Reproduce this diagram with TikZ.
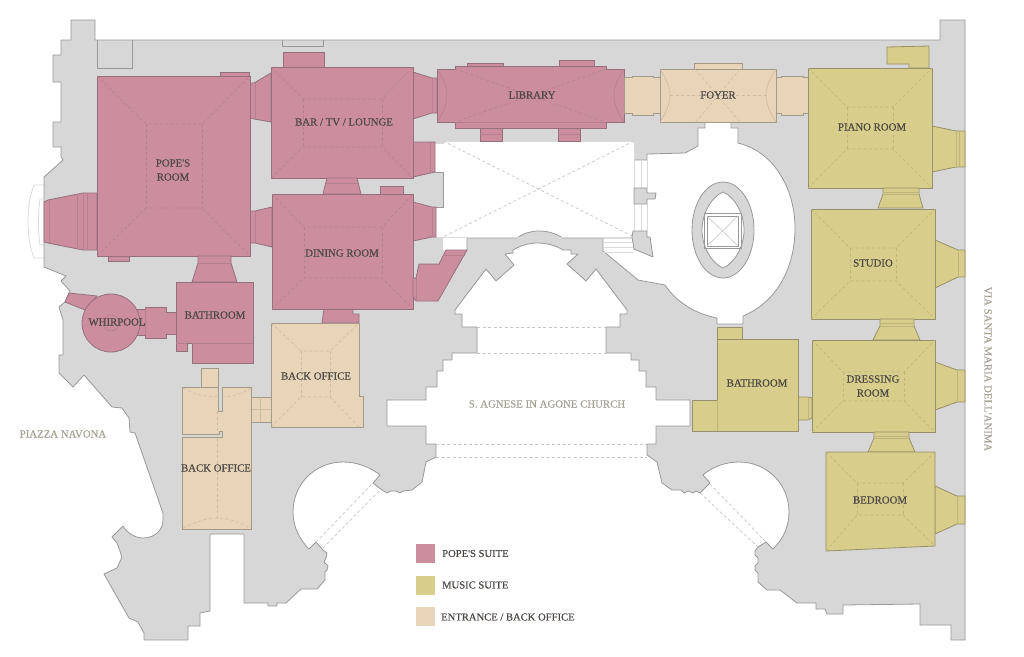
\documentclass[tikz,border=0pt]{standalone}
\usepackage{fontspec}
\setmainfont{Liberation Serif}
\newfontfamily\platefont[FakeBold=0.35]{Liberation Serif}
\definecolor{wallgray}{HTML}{D7D7D7}
\definecolor{walledge}{HTML}{989898}
\definecolor{voidedge}{HTML}{DADADA}
\definecolor{voidmark}{HTML}{C6C6C6}
\definecolor{popepink}{HTML}{CC8E9F}
\definecolor{popeedge}{HTML}{94707C}
\definecolor{popesoft}{HTML}{B4808F}
\definecolor{musicolive}{HTML}{D8CD8A}
\definecolor{musicedge}{HTML}{97906A}
\definecolor{musicsoft}{HTML}{BEB47C}
\definecolor{officetan}{HTML}{E8D4B8}
\definecolor{officeedge}{HTML}{A39A88}
\definecolor{officesoft}{HTML}{CCBBA3}
\definecolor{labeldark}{HTML}{4B4744}
\definecolor{labellight}{HTML}{A5A296}
\tikzset{
  wall/.style={fill=wallgray, draw=walledge, line width=0.8pt, line join=round},
  void/.style={fill=white, draw=walledge, line width=0.8pt},
  voidline/.style={draw=voidedge, line width=0.8pt},
  voiddash/.style={draw=voidmark, line width=0.7pt, dash pattern=on 3pt off 2.5pt},
  pope/.style={fill=popepink, draw=popeedge, line width=0.8pt},
  music/.style={fill=musicolive, draw=musicedge, line width=0.8pt},
  office/.style={fill=officetan, draw=officeedge, line width=0.8pt},
  popedash/.style={draw=popesoft, line width=0.6pt, dash pattern=on 3pt off 2.5pt},
  musicdash/.style={draw=musicsoft, line width=0.6pt, dash pattern=on 3pt off 2.5pt},
  officedash/.style={draw=officesoft, line width=0.6pt, dash pattern=on 3pt off 2.5pt},
  popeline/.style={draw=popesoft, line width=0.6pt},
  musicline/.style={draw=musicsoft, line width=0.6pt},
  officeline/.style={draw=officesoft, line width=0.6pt},
  roomlabel/.style={font=\platefont\fontsize{10.8}{14}\selectfont, text=labeldark, align=center, inner sep=0pt},
  placelabel/.style={font=\platefont\fontsize{10.8}{14}\selectfont, text=labellight, inner sep=0pt},
  keylabel/.style={font=\platefont\fontsize{10.6}{13}\selectfont, text=labeldark, anchor=west, inner sep=0pt}
}
% hipped ceiling: style, outer corners, inner corners
\newcommand{\hipceiling}[9]{
  \draw[#1] (#2,#3) -- (#6,#7) -- (#8,#7) -- (#4,#3);
  \draw[#1] (#2,#5) -- (#6,#9) -- (#8,#9) -- (#4,#5);
  \draw[#1] (#6,#7) -- (#6,#9);
  \draw[#1] (#8,#7) -- (#8,#9);
}
\begin{document}
\begin{tikzpicture}[x=1pt,y=-1pt]
  \useasboundingbox (0,0) rectangle (1024,656);

  % Portal on the piazza
  \draw[voidline] (44,185) -- (34,185) .. controls (26,205) and (26,238) .. (34,258) -- (44,258);
  \draw[voidline] (44,199) -- (40,199) .. controls (38,212) and (38,232) .. (40,245) -- (44,245);

  % Palace walls
  \path[wall] (71,20) -- (95,20) -- (95,40) -- (940,40) -- (940,20) -- (965,20) -- (965,640)
    -- (951,640) -- (951,625) -- (920,625) -- (920,604) -- (843,605) -- (843,614) -- (827,614)
    -- (825,609) -- (816,609) -- (816,603) -- (797,603) -- (780,590) -- (767,590) -- (758,582)
    -- (758,573) -- (755,570) -- (755,566) -- (758,563) -- (758,558) -- (755,555) -- (755,551)
    -- (758,547) -- (766,542) -- (773,549)
    .. controls (784,538) and (789,526) .. (789,512) .. controls (789,484) and (767,462) .. (739,462)
    .. controls (725,462) and (712,467) .. (703,475)
    -- (710,483) -- (700,493) -- (696,491) -- (693,493) -- (688,491) -- (684,493) -- (681,490)
    -- (672,490) -- (662,483) -- (657,462) -- (647,455)
    % church
    -- (647,444) -- (656,444) -- (656,426) -- (690,426) -- (690,400) -- (656,400) -- (656,387)
    -- (646,387) -- (646,371) -- (639,371) -- (639,360) -- (631,360) -- (631,353) -- (606,353)
    -- (606,327) -- (620,327) -- (620,314) -- (627,314) -- (627,310) -- (596,269) -- (586,281)
    -- (567,264) -- (578,254) -- (571,254) -- (571,250) -- (563,250)
    .. controls (555,245) and (546,243) .. (537,243) .. controls (528,243) and (520,246) .. (513,250)
    -- (513,253) -- (505,254) -- (514,265) -- (496,281) -- (486,269) -- (455,310) -- (455,314)
    -- (462,314) -- (462,327) -- (477,327) -- (477,353) -- (452,353) -- (452,360) -- (443,360)
    -- (443,371) -- (437,371) -- (437,387) -- (426,387) -- (426,400) -- (387,400) -- (387,426)
    -- (426,426) -- (426,444) -- (436,444) -- (436,457) -- (426,462) -- (422,482) -- (412,490)
    -- (403,491) -- (400,493) -- (396,491) -- (391,491) -- (387,493) -- (382,490) -- (373,483)
    -- (380,475)
    .. controls (370,467) and (357,462) .. (343,462) .. controls (315,462) and (293,484) .. (293,512)
    .. controls (293,526) and (299,539) .. (309,549)
    -- (316,542) -- (323,550) -- (327,553) -- (326,558) -- (324,562) -- (328,566) -- (327,570)
    -- (325,572) -- (325,580) -- (317,589) -- (301,589) -- (286,603) -- (277,603) -- (277,606)
    -- (268,606) -- (268,603) -- (244,603) -- (244,534) -- (210,534) -- (210,611) -- (200,613)
    -- (200,626) -- (188,626) -- (188,640) -- (144,640) -- (144,633) -- (138,622) -- (129,618)
    -- (104,574) -- (117,568) -- (122,557) -- (117,543) -- (112,537) -- (123,526)
    .. controls (127,533) and (135,538) .. (143,538) .. controls (155,538) and (163,530) .. (163,520)
    -- (163,513) -- (135,433) -- (130,432) -- (129,418) -- (122,408) -- (112,407) -- (84,375)
    -- (73,387) -- (59,373) -- (59,355) -- (63,355) -- (63,320) -- (59,307) -- (65,302) -- (70,291)
    -- (61,281) -- (66,276) -- (44,267) -- (44,177) -- (63,160) -- (61,157) -- (61,147) -- (53,147)
    -- (53,122) -- (61,122) -- (61,82) -- (53,82) -- (53,55) -- (61,55) -- (61,40) -- (71,40) -- cycle;
  \draw[draw=walledge, line width=0.8pt] (97,40) -- (97,68) -- (132,68) -- (132,40);
  \draw[draw=walledge, line width=0.8pt] (282,40) -- (282,46) -- (323,46) -- (323,40);

  % Rotunda behind the foyer
  \path[void] (634,160) -- (647,160) -- (647,154) -- (685,153) -- (698,146) -- (698,128) -- (705,128)
    -- (705,122) -- (731,122) -- (731,128) -- (738,128) -- (738,143)
    .. controls (775,152) and (795,190) .. (795,228) .. controls (795,270) and (775,303) .. (743,316)
    -- (743,324) -- (717,324) -- (717,318)
    .. controls (692,313) and (675,300) .. (665,285)
    -- (638,280) -- (603,251) -- (603,238) -- (634,238) -- cycle;

  % Great hall
  \path[fill=white] (435,143) -- (443,143) -- (443,141) -- (634,141) -- (634,238) -- (563,238)
    .. controls (555,233) and (547,231) .. (539,231) .. controls (531,231) and (524,233) .. (517,238)
    -- (467,238) -- (467,250) -- (443,250) -- (443,237) -- (436,237) -- (436,207) -- (443,207)
    -- (443,172) -- (435,172) -- cycle;
  \draw[draw=walledge, line width=0.8pt] (435,172) -- (443,172) -- (443,207) -- (436,207);
  \draw[draw=walledge, line width=0.8pt] (467,250) -- (467,238) -- (517,238)
    .. controls (524,233) and (531,231) .. (539,231) .. controls (547,231) and (555,233) .. (563,238) -- (603,238);
  \draw[voidline] (435,143) -- (443,143) -- (443,141) -- (634,141) -- (634,237) -- (436,237);
  \draw[voiddash] (443,141) -- (634,237);
  \draw[voiddash] (634,141) -- (443,237);

  % Door strips
  \draw[voidline] (641,160) -- (641,188);
  \draw[voidline] (647,160) -- (647,188);
  \draw[voidline] (641,204) -- (641,231);
  \draw[voidline] (647,204) -- (647,231);
  \draw[voidline] (603,242) -- (633,242);
  \draw[voidline] (603,247) -- (633,247);
  \draw[voidline] (603,252) -- (634,252);
  \path[wall] (634,188) -- (647,188) -- (647,193) -- (656,193) -- (655,199) -- (647,199) -- (647,204) -- (634,204) -- cycle;
  \path[wall] (633,231) -- (647,231) -- (647,237) -- (650,237) -- (653,257) -- (634,249) -- (632,237) -- cycle;

  % Oval stair
  \path[wall] (723,230) ellipse [x radius=31, y radius=48];
  \path[void] (723,192) .. controls (711,197) and (702,214) .. (702,230) .. controls (702,246) and (711,263) .. (723,268)
    .. controls (735,263) and (744,246) .. (744,230) .. controls (744,214) and (735,197) .. (723,192) -- cycle;
  \draw[draw=walledge, line width=0.8pt] (704,213) rectangle (741,248);
  \draw[draw=walledge, line width=0.8pt] (707,216) rectangle (738,246);
  \draw[draw=voidmark, line width=0.6pt] (707,216) -- (738,246);
  \draw[draw=voidmark, line width=0.6pt] (738,216) -- (707,246);

  % Church and niche dashes
  \draw[voiddash] (477,327) -- (606,327);
  \draw[voiddash] (477,353) -- (606,353);
  \draw[voiddash] (436,444) -- (647,444);
  \draw[voiddash] (436,457) -- (647,457);
  \draw[voiddash] (316,542) -- (373,483);
  \draw[voiddash] (323,548) -- (380,490);
  \draw[voiddash] (710,484) -- (766,542);
  \draw[voiddash] (700,493) -- (758,547);

  % Pope's room
  \path[pope] (44,202) -- (48,200) -- (83,193) -- (97,193) -- (97,250) -- (83,250) -- (48,243) -- (44,242) -- cycle;
  \draw[popeline] (49,200) -- (49,243);
  \draw[popeline] (77,194) -- (77,249);
  \draw[popeline] (83,193) -- (83,250);
  \draw[popeline] (87,193) -- (87,250);
  \path[pope] (220,72) rectangle (249,76);
  \path[pope] (108,256) rectangle (129,261);
  \path[pope] (250,83) -- (254,83) -- (271,73) -- (271,122) -- (254,119) -- (250,118) -- cycle;
  \path[pope] (250,211) -- (255,211) -- (272,207) -- (272,247) -- (255,243) -- (250,243) -- cycle;
  \draw[popeline] (255,83) -- (255,119);
  \draw[popeline] (255,211) -- (255,243);
  \path[pope] (97,76) rectangle (250,256);
  \hipceiling{popedash}{97}{76}{250}{256}{146}{124}{202}{208}

  % Bar / TV / lounge
  \path[pope] (283,52) rectangle (324,67);
  \path[pope] (413,72) -- (432,78) -- (437,78) -- (437,113) -- (432,113) -- (413,119) -- cycle;
  \draw[popeline] (432,78) -- (432,113);
  \path[pope] (413,142) -- (435,142) -- (435,172) -- (413,177) -- cycle;
  \draw[popeline] (430,142) -- (430,173);
  \path[pope] (271,67) rectangle (413,178);
  \hipceiling{popedash}{271}{67}{413}{178}{303}{99}{382}{147}

  % Dining room
  \path[pope] (327,178) -- (357,178) -- (361,194) -- (323,194) -- cycle;
  \draw[popeline] (326,183) -- (358,183);
  \path[pope] (380,186) rectangle (403,194);
  \path[pope] (413,202) -- (432,207) -- (436,207) -- (436,237) -- (432,237) -- (413,241) -- cycle;
  \draw[popeline] (432,207) -- (432,237);
  \path[pope] (324,309) -- (353,309) -- (353,314) -- (359,314) -- (359,323) -- (322,323) -- cycle;
  \path[pope] (272,194) rectangle (413,309);
  \hipceiling{popedash}{272}{194}{413}{309}{304}{227}{382}{278}
  \path[pope] (467,250) -- (446,250) -- (439,264) -- (419,264) -- (416,278) -- (413,278) -- (413,297) -- (416,301) -- (438,301) -- cycle;
  \draw[popeline] (443,255) -- (465,255);
  \draw[popeline] (419,264) -- (439,264);
  \draw[popeline] (416,278) -- (416,301);

  % Library
  \path[pope] (480,128) rectangle (502,141);
  \path[pope] (558,128) rectangle (580,141);
  \draw[popeline] (480,134) -- (502,134);
  \draw[popeline] (558,134) -- (580,134);
  \path[pope] (467,63) rectangle (503,66);
  \path[pope] (559,60) rectangle (594,66);
  \path[pope] (437,69) -- (455,69) -- (455,66) -- (606,66) -- (606,69) -- (624,69) -- (624,122) -- (606,122) -- (606,128) -- (455,128) -- (455,122) -- (437,122) -- cycle;
  \draw[popeline] (437,69) .. controls (444,80) and (447,88) .. (447,95) .. controls (447,102) and (444,112) .. (437,122);
  \draw[popeline] (624,69) .. controls (617,80) and (614,88) .. (614,95) .. controls (614,102) and (617,112) .. (624,122);
  \draw[popeline] (455,122) -- (606,122);
  \draw[popedash] (455,69) -- (606,122);
  \draw[popedash] (606,69) -- (455,122);

  % Bathroom and whirlpool
  \path[pope] (198,256) -- (231,256) -- (231,263) -- (237,282) -- (192,282) -- (198,263) -- cycle;
  \draw[popeline] (198,263) -- (231,263);
  \path[pope] (69,293) -- (97,296) -- (85,310) -- (65,302) -- cycle;
  \path[pope] (137,309) -- (145,309) -- (145,307) -- (166,307) -- (166,312) -- (176,312) -- (176,334) -- (166,334) -- (166,338) -- (145,338) -- (145,335) -- (137,335) -- cycle;
  \draw[popeline] (145,309) -- (145,335);
  \path[pope] (111,323) circle (29);
  \draw[popeline] (111,323) circle (8);
  \path[pope] (176,282) -- (253,282) -- (253,363) -- (192,363) -- (192,343) -- (187,343) -- (187,351) -- (176,351) -- cycle;
  \draw[popeline] (192,343) -- (253,343);
  \draw[popeline] (176,343) -- (187,343);

  % Foyer
  \path[office] (624,77) -- (632,77) -- (632,76) -- (653,76) -- (653,77) -- (660,77) -- (660,113) -- (653,113) -- (653,115) -- (632,115) -- (632,113) -- (624,113) -- cycle;
  \path[office] (776,77) -- (781,77) -- (781,76) -- (803,76) -- (803,77) -- (808,77) -- (808,113) -- (803,113) -- (803,115) -- (781,115) -- (781,113) -- (776,113) -- cycle;
  \path[office] (694,63) rectangle (742,69);
  \path[office] (660,69) rectangle (776,122);
  \draw[officeline] (660,69) .. controls (667,80) and (670,88) .. (670,95) .. controls (670,102) and (667,112) .. (660,122);
  \draw[officeline] (776,69) .. controls (769,80) and (766,88) .. (766,95) .. controls (766,102) and (769,112) .. (776,122);
  \draw[officedash] (695,69) -- (740,122);
  \draw[officedash] (740,69) -- (696,122);
  \draw[officedash] (670,95) -- (766,95);

  % Back offices
  \path[office] (251,397) rectangle (271,422);
  \draw[officeline] (260,397) -- (260,422);
  \draw[officeline] (251,409) -- (271,409);
  \path[office] (271,323) -- (359,323) -- (359,396) -- (363,396) -- (363,427) -- (271,427) -- cycle;
  \hipceiling{officedash}{271}{323}{359}{427}{301}{351}{330}{397}
  \path[office] (201,368) rectangle (218,387);
  \path[office] (182,387) -- (218,387) -- (218,411) -- (222,411) -- (222,387) -- (251,387) -- (251,529) -- (182,529) -- (182,437) -- (222,437) -- (222,431) -- (219,431) -- (219,434) -- (182,434) -- cycle;
  \draw[officedash] (183,388) .. controls (195,395) and (210,398) .. (218,396);
  \draw[officedash] (222,397) .. controls (232,397) and (242,394) .. (251,388);
  \draw[officedash] (183,528) .. controls (195,522) and (207,518) .. (217,518) .. controls (227,518) and (240,522) .. (250,528);
  \draw[officedash] (217,411) -- (217,518);

  % Piano room
  \path[music] (887,47) -- (929,46) -- (929,68) -- (909,68) -- (909,64) -- (887,64) -- cycle;
  \path[music] (932,126) -- (956,131) -- (965,131) -- (965,167) -- (956,167) -- (932,172) -- cycle;
  \draw[musicline] (956,131) -- (956,167);
  \draw[musicline] (959,131) -- (959,167);
  \path[music] (808,68) rectangle (932,188);
  \hipceiling{musicdash}{808}{68}{932}{188}{847}{107}{893}{149}
  \path[music] (883,188) -- (919,188) -- (919,194) -- (923,208) -- (878,208) -- (883,194) -- cycle;
  \draw[musicline] (883,192) -- (919,192);
  \draw[musicline] (883,194) -- (919,194);

  % Studio
  \path[music] (935,240) -- (958,250) -- (965,250) -- (965,277) -- (958,277) -- (935,288) -- cycle;
  \draw[musicline] (958,250) -- (958,277);
  \path[music] (811,209) rectangle (935,319);
  \hipceiling{musicdash}{811}{209}{935}{319}{850}{248}{896}{281}
  \path[music] (880,319) -- (914,319) -- (914,326) -- (920,340) -- (873,340) -- (880,326) -- cycle;
  \draw[musicline] (880,323) -- (914,323);
  \draw[musicline] (880,326) -- (914,326);

  % Dressing room
  \path[music] (935,362) -- (957,370) -- (965,370) -- (965,402) -- (957,402) -- (935,410) -- cycle;
  \draw[musicline] (957,370) -- (957,402);
  \path[music] (812,340) rectangle (935,432);
  \hipceiling{musicdash}{812}{340}{935}{432}{843}{372}{904}{401}
  \path[music] (874,432) -- (909,432) -- (909,438) -- (915,452) -- (868,452) -- (874,438) -- cycle;
  \draw[musicline] (874,436) -- (909,436);
  \draw[musicline] (874,438) -- (909,438);

  % Bedroom
  \path[music] (935,486) -- (957,496) -- (965,496) -- (965,524) -- (957,524) -- (935,534) -- cycle;
  \draw[musicline] (957,496) -- (957,524);
  \path[music] (826,452) -- (935,452) -- (935,546) -- (826,551) -- cycle;
  \draw[musicdash] (826,452) -- (857,483) -- (903,483) -- (935,452);
  \draw[musicdash] (826,551) -- (857,515) -- (903,515) -- (935,546);
  \draw[musicdash] (857,483) -- (857,515);
  \draw[musicdash] (903,483) -- (903,515);

  % Music bathroom
  \path[music] (717,327) rectangle (742,339);
  \path[music] (798,397) -- (808,397) -- (812,398) -- (812,418) -- (808,420) -- (798,420) -- cycle;
  \draw[musicline] (808,397) -- (808,420);
  \path[music] (717,339) -- (798,339) -- (798,431) -- (692,431) -- (692,400) -- (717,400) -- cycle;
  \draw[musicline] (717,400) -- (717,431);

  % Labels
  \node[roomlabel] (popesroom) at (173,170) {POPE'S\\ROOM};
  \node[roomlabel] (lounge) at (344,122) {BAR / TV / LOUNGE};
  \node[roomlabel] (dining) at (342,253) {DINING ROOM};
  \node[roomlabel] (bathroomleft) at (215,315) {BATHROOM};
  \node[roomlabel] (whirpool) at (117,322) {WHIRPOOL};
  \node[roomlabel] (library) at (532,95) {LIBRARY};
  \node[roomlabel] (foyer) at (718,95) {FOYER};
  \node[roomlabel] (piano) at (872,127) {PIANO ROOM};
  \node[roomlabel] (studio) at (873,263) {STUDIO};
  \node[roomlabel] (bathroomright) at (757,383) {BATHROOM};
  \node[roomlabel] (dressing) at (873,386) {DRESSING\\ROOM};
  \node[roomlabel] (bedroom) at (880,500) {BEDROOM};
  \node[roomlabel] (officeright) at (316,376) {BACK OFFICE};
  \node[roomlabel] (officeleft) at (216,468) {BACK OFFICE};
  \node[placelabel] (piazza) at (63,434) {PIAZZA NAVONA};
  \node[placelabel] (church) at (547,404) {S. AGNESE IN AGONE CHURCH};
  \node[placelabel, rotate=-90] (street) at (988,369) {VIA SANTA MARIA DELL'ANIMA};

  % Key
  \path[fill=popepink] (416,544) rectangle (435,563);
  \path[fill=musicolive] (416,576) rectangle (435,595);
  \path[fill=officetan] (416,607) rectangle (435,626);
  \node[keylabel] (keypope) at (442,553.5) {POPE'S SUITE};
  \node[keylabel] (keymusic) at (442,585) {MUSIC SUITE};
  \node[keylabel] (keyoffice) at (441,617) {ENTRANCE / BACK OFFICE};
\end{tikzpicture}
\end{document}
